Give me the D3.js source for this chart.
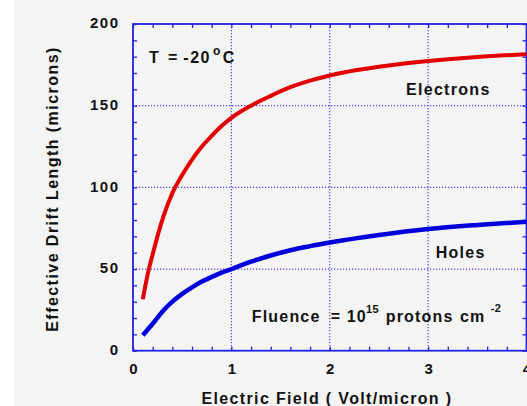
<!DOCTYPE html>
<html>
<head>
<meta charset="utf-8">
<script src="https://cdn.jsdelivr.net/npm/d3@7"></script>
<style>
  html, body { margin: 0; padding: 0; background: #ffffff; }
  svg { display: block; }
  text { font-family: "Liberation Sans", Arial, Helvetica, sans-serif; font-weight: bold; fill: #111; }
</style>
</head>
<body>
<svg id="chart" width="527" height="406"></svg>
<script>
// Electric field (Volt/micron) sample points
const fieldValues = [0.1, 0.15, 0.2, 0.3, 0.4, 0.5, 0.6, 0.7, 0.8, 0.9, 1.0,
                     1.2, 1.4, 1.6, 1.8, 2.0, 2.5, 3.0, 3.5, 4.0];
// Effective drift length (microns) for electrons and holes
const electronLength = [31.5, 47, 59, 80.5, 96.5, 107.5, 117, 125, 131.5, 137.5, 142.5,
                        150, 156, 161.3, 165.3, 168.5, 173.8, 177.3, 179.8, 181.5];
const holeLength = [9.5, 13, 16.5, 24, 30, 34.8, 38.8, 42.3, 45.2, 47.8, 50,
                    54.5, 58.3, 61.5, 64, 66.2, 70.8, 74.5, 77, 79];

const xTicks = [0, 1, 2, 3, 4];
const yTicks = [0, 50, 100, 150, 200];
const xMinor = d3.range(0, 4.0001, 0.2);
const yMinor = d3.range(0, 200.0001, 10);

const svg = d3.select("#chart");
const W = 527, H = 406;
const mLeft = 133, mRight = 526.5, mTop = 24, mBottom = 350.7;

const x = d3.scaleLinear().domain([0, 4]).range([mLeft, mRight]);
const y = d3.scaleLinear().domain([0, 200]).range([mBottom, mTop]);

const frameColor = "#2222e6";
const gridColor = "#4646f0";

// page background
svg.append("rect").attr("width", W).attr("height", H).attr("fill", "#ffffff");
svg.append("rect").attr("x", 14).attr("width", W - 14).attr("height", H).attr("fill", "#f4f4f4");

// dotted grid at major ticks
const grid = svg.append("g").attr("stroke", gridColor).attr("stroke-width", 1.2)
  .attr("stroke-dasharray", "1.2,1.8");
grid.selectAll("line.gx").data(xTicks.filter(d => d > 0 && d < 4)).join("line")
  .attr("class", "gx")
  .attr("x1", d => x(d)).attr("x2", d => x(d)).attr("y1", mTop).attr("y2", mBottom);
grid.selectAll("line.gy").data(yTicks.filter(d => d > 0 && d < 200)).join("line")
  .attr("class", "gy")
  .attr("y1", d => y(d)).attr("y2", d => y(d)).attr("x1", mLeft).attr("x2", mRight);

// inward ticks on all four sides
function tickAxis(axisFn, scale, values, size, transform) {
  const g = svg.append("g").attr("transform", transform)
    .call(axisFn(scale).tickValues(values).tickSize(size).tickFormat(""));
  g.select(".domain").remove();
  g.selectAll("line").attr("stroke", frameColor).attr("stroke-width", 1.3);
}
tickAxis(d3.axisBottom, x, xMinor, -4, `translate(0,${mBottom})`);
tickAxis(d3.axisTop, x, xMinor, -4, `translate(0,${mTop})`);
tickAxis(d3.axisLeft, y, yMinor, -4, `translate(${mLeft},0)`);
tickAxis(d3.axisRight, y, yMinor, -4, `translate(${mRight},0)`);

// frame
svg.append("rect").attr("x", mLeft).attr("y", mTop)
  .attr("width", mRight - mLeft).attr("height", mBottom - mTop)
  .attr("fill", "none").attr("stroke", frameColor).attr("stroke-width", 1.8);

// tick labels
const xLab = svg.append("g").attr("transform", `translate(0,${mBottom})`)
  .call(d3.axisBottom(x).tickValues(xTicks).tickSize(0).tickPadding(13).tickFormat(d3.format("d")));
xLab.select(".domain").remove();
xLab.selectAll("text").attr("font-size", 15).attr("font-family", null)
  .style("letter-spacing", "1.5px").attr("fill", "#111").attr("dx", "0.75");

const yLab = svg.append("g").attr("transform", `translate(${mLeft},0)`)
  .call(d3.axisLeft(y).tickValues(yTicks).tickSize(0).tickPadding(13.5).tickFormat(d3.format("d")));
yLab.select(".domain").remove();
yLab.selectAll("text").attr("font-size", 15).attr("font-family", null)
  .style("letter-spacing", "1.5px").attr("fill", "#111").attr("dy", "0.25em");

// curves
const line = d3.line().x((d, i) => x(fieldValues[i])).y(d => y(d)).curve(d3.curveMonotoneX);
svg.append("path").datum(electronLength).attr("d", line)
  .attr("fill", "none").attr("stroke", "#e20000").attr("stroke-width", 4)
  .attr("stroke-linejoin", "round");
svg.append("path").datum(holeLength).attr("d", line)
  .attr("fill", "none").attr("stroke", "#0000dc").attr("stroke-width", 4.5)
  .attr("stroke-linejoin", "round");

// axis titles
svg.append("text").attr("x", 327).attr("y", 403.5).attr("text-anchor", "middle")
  .attr("font-size", 16).style("letter-spacing", "1.35px")
  .text("Electric Field ( Volt/micron )");
svg.append("text").attr("transform", "translate(57.5,189) rotate(-90)")
  .attr("text-anchor", "middle").attr("font-size", 16).style("letter-spacing", "1.45px")
  .text("Effective Drift Length (microns)");

// annotations
const tLabel = svg.append("text").attr("font-size", 16).style("letter-spacing", "1.5px");
tLabel.append("tspan").attr("x", 149).attr("y", 63.3).text("T");
tLabel.append("tspan").attr("x", 168).attr("y", 63.3).text("=");
tLabel.append("tspan").attr("x", 183.3).attr("y", 63.3).text("-20");
tLabel.append("tspan").attr("x", 213).attr("y", 54.5).attr("font-size", 12).style("letter-spacing", "0px").text("o");
tLabel.append("tspan").attr("x", 222.7).attr("y", 63.3).text("C");

svg.append("text").attr("x", 406).attr("y", 95.3).attr("font-size", 16)
  .style("letter-spacing", "1.3px").text("Electrons");
svg.append("text").attr("x", 435.7).attr("y", 258.3).attr("font-size", 16)
  .style("letter-spacing", "1.3px").text("Holes");

const fl = svg.append("text").attr("font-size", 16).style("letter-spacing", "1.2px");
fl.append("tspan").attr("x", 251.7).attr("y", 321.7).text("Fluence");
fl.append("tspan").attr("x", 330.7).attr("y", 321.7).text("=");
fl.append("tspan").attr("x", 346.7).attr("y", 321.7).text("10");
fl.append("tspan").attr("x", 366).attr("y", 313.3).attr("font-size", 11).style("letter-spacing", "0.5px").text("15");
fl.append("tspan").attr("x", 385.7).attr("y", 321.7).text("protons");
fl.append("tspan").attr("x", 460).attr("y", 321.7).text("cm");
fl.append("tspan").attr("x", 490.7).attr("y", 312).attr("font-size", 11).style("letter-spacing", "0.5px").text("-2");
</script>
</body>
</html>
